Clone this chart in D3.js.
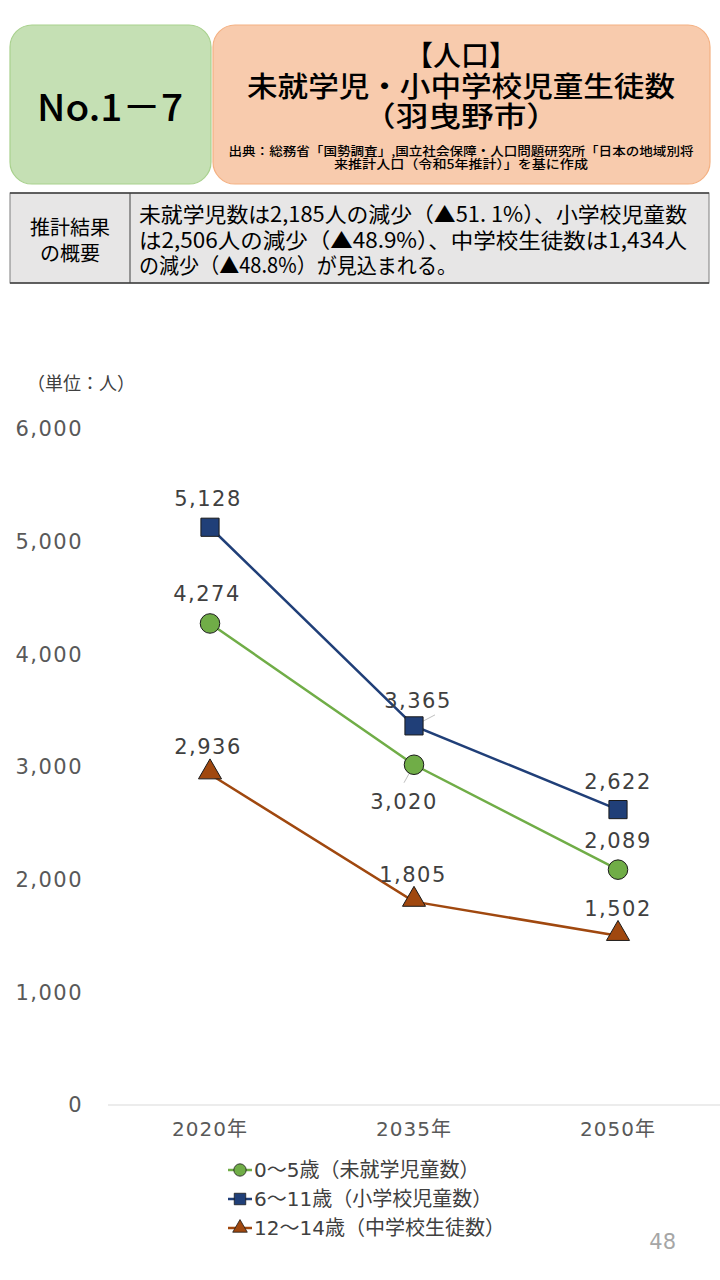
<!DOCTYPE html>
<html>
<head>
<meta charset="utf-8">
<script src="https://cdn.jsdelivr.net/npm/d3@7"></script>
<style>
  body { margin: 0; background: #fff; }
  svg { display: block; font-family: "Noto Sans CJK JP", "Noto Sans", sans-serif; }
</style>
</head>
<body>
<div id="chart"></div>
<script>
// data
const years = ["2020年", "2035年", "2050年"];
const seriesNames = ["0～5歳（未就学児童数）", "6～11歳（小学校児童数）", "12～14歳（中学校生徒数）"];
const preschool = [4274, 3020, 2089];
const elementary = [5128, 3365, 2622];
const juniorHigh = [2936, 1805, 1502];
const yTicks = [0, 1000, 2000, 3000, 4000, 5000, 6000];

const summaryLines = [
  "未就学児数は2,185人の減少（▲51. 1%）、小学校児童数",
  "は2,506人の減少（▲48.9%）、中学校生徒数は1,434人",
  "の減少（▲48.8%）が見込まれる。"
];

const W = 720, H = 1280;
const PLOT = {LEFT: 108, RIGHT: 720, TOP: 429, BOTTOM: 1105};
const NUM_FONT = "\"DejaVu Sans\", \"Noto Sans CJK JP\", sans-serif";

const svg = d3.select("#chart").append("svg")
  .attr("width", W)
  .attr("height", H)

// header boxes
svg.append("rect")
  .attr("x", 10).attr("y", 25).attr("width", 201).attr("height", 159)
  .attr("rx", 22)
  .attr("fill", "#c5e0b4").attr("stroke", "#a9d18e").attr("stroke-width", 1.2)
svg.append("text")
  .attr("x", 110).attr("y", 121)
  .attr("text-anchor", "middle")
  .attr("font-size", "37px").attr("font-weight", 500)
  .attr("fill", "#000")
  .attr("textLength", 146).attr("lengthAdjust", "spacingAndGlyphs")
  .text("No.1－7")

svg.append("rect")
  .attr("x", 213).attr("y", 25).attr("width", 497).attr("height", 159)
  .attr("rx", 22)
  .attr("fill", "#f8cbad").attr("stroke", "#f4b183").attr("stroke-width", 1.2)

const titleLines = ["【人口】", "未就学児・小中学校児童生徒数", "（羽曳野市）"];
const titleY = [66, 97, 127];
titleLines.forEach(function(t, i) {
  const tx = svg.append("text")
    .attr("x", 461).attr("y", titleY[i])
    .attr("text-anchor", "middle")
    .attr("font-size", "28px").attr("font-weight", 500)
    .attr("fill", "#000")
    .text(t)
  if (i == 1) tx.attr("textLength", 428).attr("lengthAdjust", "spacingAndGlyphs")
  if (i == 2) tx.attr("textLength", 196).attr("lengthAdjust", "spacingAndGlyphs")
})

svg.append("text")
  .attr("x", 461).attr("y", 156)
  .attr("text-anchor", "middle")
  .attr("font-size", "12.5px").attr("font-weight", 500)
  .attr("textLength", 465).attr("lengthAdjust", "spacingAndGlyphs")
  .text("出典：総務省「国勢調査」,国立社会保障・人口問題研究所「日本の地域別将")
svg.append("text")
  .attr("x", 461).attr("y", 169)
  .attr("text-anchor", "middle")
  .attr("font-size", "12.5px").attr("font-weight", 500)
  .attr("textLength", 254).attr("lengthAdjust", "spacingAndGlyphs")
  .text("来推計人口（令和5年推計）」を基に作成")

// summary table
svg.append("rect")
  .attr("x", 10).attr("y", 193).attr("width", 699).attr("height", 90)
  .attr("fill", "#e7e6e6").attr("stroke", "#7f7f7f").attr("stroke-width", 1)
svg.append("line")
  .attr("x1", 10).attr("x2", 709).attr("y1", 193).attr("y2", 193)
  .attr("stroke", "#404040").attr("stroke-width", 1.5)
svg.append("line")
  .attr("x1", 10).attr("x2", 709).attr("y1", 283).attr("y2", 283)
  .attr("stroke", "#404040").attr("stroke-width", 1.5)
svg.append("line")
  .attr("x1", 130).attr("x2", 130).attr("y1", 193).attr("y2", 283)
  .attr("stroke", "#404040").attr("stroke-width", 1)

svg.append("text")
  .attr("x", 70).attr("y", 235)
  .attr("text-anchor", "middle").attr("font-size", "20px")
  .text("推計結果")
svg.append("text")
  .attr("x", 70).attr("y", 261)
  .attr("text-anchor", "middle").attr("font-size", "20px")
  .text("の概要")

const summaryLen = [548, 548, 318];
summaryLines.forEach(function(t, i) {
  svg.append("text")
    .attr("x", 139).attr("y", 222 + i * 25.5)
    .attr("font-size", "21px")
    .attr("textLength", summaryLen[i]).attr("lengthAdjust", "spacingAndGlyphs")
    .text(t)
})

// unit label
svg.append("text")
  .attr("x", 27).attr("y", 390)
  .attr("font-size", "18px").attr("fill", "#404040")
  .text("（単位：人）")

// scales
const x = d3.scaleBand()
  .domain(years)
  .range([PLOT.LEFT, PLOT.RIGHT])
  .padding(0)

const y = d3.scaleLinear()
  .domain([0, 6000])
  .range([PLOT.BOTTOM, PLOT.TOP])

const cx = function(d) { return x(d) + x.bandwidth() / 2 }

// y axis
const yAxisCall = d3.axisLeft(y)
  .tickValues(yTicks)
  .tickSize(0)
  .tickPadding(0)
  .tickFormat(d3.format(","))
const gy = svg.append("g")
  .attr("transform", "translate(83,0)")
  .call(yAxisCall)
gy.select(".domain").remove()
gy.selectAll("text")
  .attr("font-size", "21px")
  .attr("letter-spacing", "1.5px")
  .attr("fill", "#595959")
  .attr("font-family", NUM_FONT)

// x axis baseline
svg.append("line")
  .attr("x1", PLOT.LEFT).attr("x2", PLOT.RIGHT)
  .attr("y1", y(0)).attr("y2", y(0))
  .attr("stroke", "#d9d9d9").attr("stroke-width", 1.2)

const xAxisCall = d3.axisBottom(x).tickSize(0).tickPadding(0)
const gx = svg.append("g")
  .attr("transform", `translate(0, ${y(0) + 17})`)
  .call(xAxisCall)
gx.select(".domain").remove()
gx.selectAll("text")
  .attr("font-size", "20px")
  .attr("letter-spacing", "1px")
  .attr("fill", "#595959")
  .attr("font-family", NUM_FONT)

// series
const series = [
  {name: seriesNames[0], values: preschool, color: "#70ad47", shape: "circle"},
  {name: seriesNames[1], values: elementary, color: "#203f78", shape: "square"},
  {name: seriesNames[2], values: juniorHigh, color: "#a0480f", shape: "triangle"}
]

const symbolType = {circle: d3.symbolCircle, square: d3.symbolSquare, triangle: d3.symbolTriangle}
const symbolSize = {circle: 300, square: 330, triangle: 230}

const line = d3.line()
  .x(function(d, i) { return cx(years[i]) })
  .y(function(d) { return y(d) })

series.forEach(function(s) {
  svg.append("path")
    .datum(s.values)
    .attr("fill", "none")
    .attr("stroke", s.color)
    .attr("stroke-width", 2.5)
    .attr("d", line)
})

// leader lines for moved labels
svg.append("line")
  .attr("x1", cx(years[1])).attr("y1", y(elementary[1]))
  .attr("x2", cx(years[1]) + 21).attr("y2", y(elementary[1]) - 11)
  .attr("stroke", "#bfbfbf").attr("stroke-width", 1)
svg.append("line")
  .attr("x1", cx(years[1])).attr("y1", y(preschool[1]))
  .attr("x2", cx(years[1]) - 10).attr("y2", y(preschool[1]) + 18)
  .attr("stroke", "#bfbfbf").attr("stroke-width", 1)

series.forEach(function(s) {
  svg.selectAll(null)
    .data(s.values)
    .enter().append("path")
    .attr("transform", function(d, i) {
      const dy = s.shape == "triangle" ? -2 : 0
      return `translate(${cx(years[i])}, ${y(d) + dy})`
    })
    .attr("d", d3.symbol().type(symbolType[s.shape]).size(symbolSize[s.shape]))
    .attr("fill", s.color)
    .attr("stroke", "#1a1a1a")
    .attr("stroke-width", 1)
})

// data labels (offsets from marker: dx, dy)
const labelOffsets = [
  [[-3, -22], [-10, 44], [0, -22]],
  [[-2, -21], [4, -18], [0, -21]],
  [[-2, -20], [-1, -20], [0, -20]]
]
series.forEach(function(s, si) {
  svg.selectAll(null)
    .data(s.values)
    .enter().append("text")
    .attr("x", function(d, i) { return cx(years[i]) + labelOffsets[si][i][0] })
    .attr("y", function(d, i) { return y(d) + labelOffsets[si][i][1] })
    .attr("text-anchor", "middle")
    .attr("font-size", "21px")
    .attr("letter-spacing", "1.5px")
    .attr("font-family", NUM_FONT)
    .attr("fill", "#404040")
    .text(function(d) { return d3.format(",")(d) })
})

// legend
const legend = svg.append("g")
series.forEach(function(s, i) {
  const ly = 1170 + i * 29
  legend.append("line")
    .attr("x1", 228).attr("x2", 252).attr("y1", ly).attr("y2", ly)
    .attr("stroke", s.color).attr("stroke-width", 2.5)
  legend.append("path")
    .attr("transform", `translate(240, ${ly})`)
    .attr("d", d3.symbol().type(symbolType[s.shape]).size(symbolSize[s.shape] * 0.4))
    .attr("fill", s.color)
    .attr("stroke", "#1a1a1a")
    .attr("stroke-width", 0.8)
  legend.append("text")
    .attr("x", 254).attr("y", ly + 7)
    .attr("font-size", "20px")
    .attr("font-family", NUM_FONT)
    .attr("fill", "#404040")
    .text(s.name)
})

// page number
svg.append("text")
  .attr("x", 676).attr("y", 1249)
  .attr("text-anchor", "end")
  .attr("font-size", "21px")
  .attr("font-family", NUM_FONT)
  .attr("fill", "#a6a6a6")
  .text("48")
</script>
</body>
</html>
